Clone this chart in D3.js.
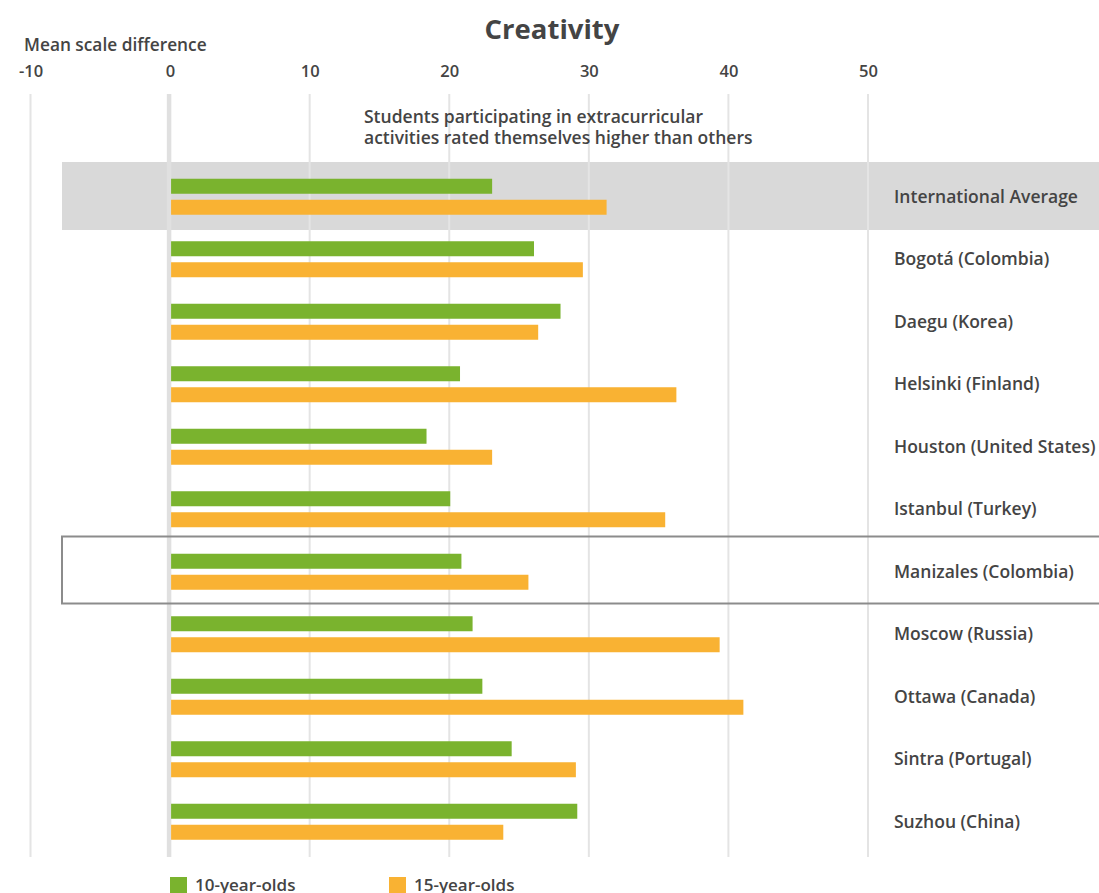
<!DOCTYPE html>
<html>
<head>
<meta charset="utf-8">
<script src="https://cdn.jsdelivr.net/npm/d3@7"></script>
<style>
  html, body { margin: 0; padding: 0; background: #fff; }
  svg { display: block; }
  text { font-family: "Open Sans", "Noto Sans", sans-serif; fill: #444; }
</style>
</head>
<body>
<div id="chart"></div>
<script>
const categories = [
  "International Average",
  "Bogotá (Colombia)",
  "Daegu (Korea)",
  "Helsinki (Finland)",
  "Houston (United States)",
  "Istanbul (Turkey)",
  "Manizales (Colombia)",
  "Moscow (Russia)",
  "Ottawa (Canada)",
  "Sintra (Portugal)",
  "Suzhou (China)"
];
const seriesNames = ["10-year-olds", "15-year-olds"];
const tenYearOlds     = [23.0, 26.0, 27.9, 20.7, 18.3, 20.0, 20.8, 21.6, 22.3, 24.4, 29.1];
const fifteenYearOlds = [31.2, 29.5, 26.3, 36.2, 23.0, 35.4, 25.6, 39.3, 41.0, 29.0, 23.8];
const tickValues = [-10, 0, 10, 20, 30, 40, 50];
const tickLabels = ["-10", "0", "10", "20", "30", "40", "50"];
const titleText = "Creativity";
const axisTitle = "Mean scale difference";
const noteLines = ["Students participating in extracurricular", "activities rated themselves higher than others"];
const highlighted = "International Average";
const boxed = "Manizales (Colombia)";

const colors = { "10-year-olds": "#7ab32e", "15-year-olds": "#f9b233" };

const W = 1099, H = 893;
const svg = d3.select("#chart").append("svg").attr("width", W).attr("height", H);

const x = d3.scaleLinear().domain([-10, 50]).range([30.5, 868]);
const y = d3.scaleBand().domain(categories).range([165.5, 853]);
const ySub = d3.scaleBand().domain(seriesNames).range([13.25, 49.25]).paddingInner(6 / 21);

const rows = categories.map((c, i) => ({ cat: c, values: [
  { s: seriesNames[0], v: tenYearOlds[i] },
  { s: seriesNames[1], v: fifteenYearOlds[i] }
]}));

// highlighted band
svg.append("rect")
  .attr("x", 62).attr("y", y(highlighted) - 3.5)
  .attr("width", W - 62 + 10).attr("height", y.step() + 5.5)
  .attr("fill", "#d9d9d9");

// gridlines
const gridTop = 94, gridBottom = 857;
svg.append("g").selectAll("line").data(tickValues).join("line")
  .attr("x1", d => x(d) + (d === 0 ? -1 : 0))
  .attr("x2", d => x(d) + (d === 0 ? -1 : 0))
  .attr("y1", gridTop).attr("y2", gridBottom)
  .attr("stroke", d => d === 0 ? "#e0e0e0" : "#e4e4e4")
  .attr("stroke-width", d => d === 0 ? 4.5 : 2);

// top axis labels
const axis = d3.axisTop(x).tickValues(tickValues).tickSize(0).tickPadding(0)
  .tickFormat((d, i) => tickLabels[i]);
const ax = svg.append("g").attr("transform", "translate(0,77)").call(axis);
ax.select(".domain").remove();
ax.selectAll("text")
  .attr("dy", 0)
  .style("font-size", "16.5px").style("font-weight", 600)
  .style("font-family", '"Open Sans", "Noto Sans", sans-serif')
  .attr("fill", "#444");

// axis title
svg.append("text").attr("x", 24).attr("y", 51)
  .style("font-size", "17.3px").style("font-weight", 600)
  .text(axisTitle);

// title
svg.append("text").attr("x", 552).attr("y", 39).attr("text-anchor", "middle")
  .style("font-size", "27.5px").style("font-weight", 700)
  .text(titleText);

// note
svg.append("text").attr("x", 364).attr("y", 123)
  .style("font-size", "17.5px").style("font-weight", 600)
  .selectAll("tspan").data(noteLines).join("tspan")
  .attr("x", 364).attr("dy", (d, i) => i === 0 ? 0 : 20.5)
  .text(d => d);

// bars
const g = svg.append("g").selectAll("g").data(rows).join("g")
  .attr("transform", d => `translate(0,${y(d.cat)})`);
g.selectAll("rect").data(d => d.values).join("rect")
  .attr("x", x(0) + 1)
  .attr("y", d => ySub(d.s))
  .attr("width", d => x(d.v) - x(0))
  .attr("height", ySub.bandwidth())
  .attr("fill", d => colors[d.s]);

// category labels
svg.append("g").selectAll("text").data(categories).join("text")
  .attr("x", 894)
  .attr("y", d => y(d) + y.step() / 2 + 6)
  .style("font-size", "17.5px").style("font-weight", 600)
  .text(d => d);

// boxed category
svg.append("rect")
  .attr("x", 62).attr("y", y(boxed) - 4)
  .attr("width", W - 62 + 10).attr("height", y.step() + 4.5)
  .attr("fill", "none").attr("stroke", "#8c8c8c").attr("stroke-width", 2);

// legend
const legendX = [170, 389];
const lg = svg.append("g").selectAll("g").data(seriesNames).join("g")
  .attr("transform", (d, i) => `translate(${legendX[i]},877)`);
lg.append("rect").attr("width", 17).attr("height", 16).attr("fill", d => colors[d]);
lg.append("text").attr("x", 25).attr("y", 14)
  .style("font-size", "17px").style("font-weight", 600)
  .text(d => d);
</script>
</body>
</html>
